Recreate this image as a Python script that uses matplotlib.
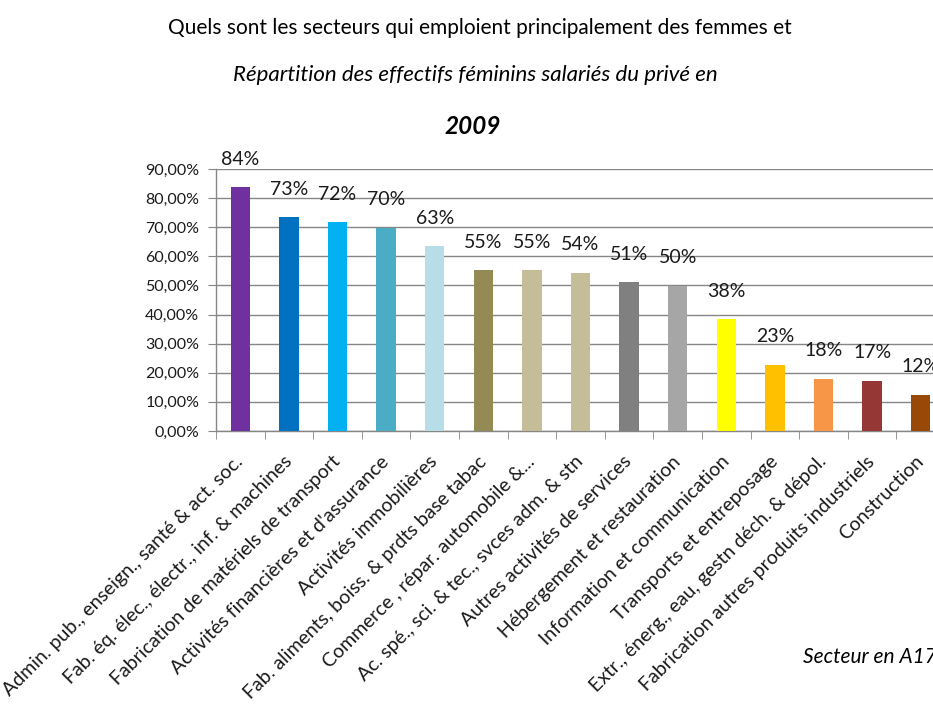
import numpy as np
import matplotlib
matplotlib.use("Agg")
import matplotlib.pyplot as plt
from matplotlib.ticker import FuncFormatter, FixedLocator

plt.rcParams['font.family'] = ['Lato', 'DejaVu Sans']

# secteurs (A17) et part des femmes dans les effectifs salariés du privé
secteurs = [
    "Admin. pub., enseign., santé & act. soc.",
    "Fab. éq. élec., électr., inf. & machines",
    "Fabrication de matériels de transport",
    "Activités financières et d'assurance",
    "Activités immobilières",
    "Fab. aliments, boiss. & prdts base tabac",
    "Commerce , répar. automobile &...",
    "Ac. spé., sci. & tec., svces adm. & stn",
    "Autres activités de services",
    "Hébergement et restauration",
    "Information et communication",
    "Transports et entreposage",
    "Extr., énerg., eau, gestn déch. & dépol.",
    "Fabrication autres produits industriels",
    "Construction",
]
part_femmes = [0.837, 0.734, 0.718, 0.698, 0.634, 0.553, 0.553, 0.543,
               0.511, 0.499, 0.384, 0.227, 0.179, 0.172, 0.124]
couleurs = ["#7030A0", "#0070C0", "#00B0F0", "#4BACC6", "#B7DEE8",
            "#948A54", "#C4BD97", "#C4BD97", "#808080", "#A6A6A6",
            "#FFFF00", "#FFC000", "#F79646", "#953735", "#984807"]
yticks = [0.0, 0.1, 0.2, 0.3, 0.4, 0.5, 0.6, 0.7, 0.8, 0.9]

W, H = 933, 705
fig = plt.figure(figsize=(W / 100, H / 100), dpi=100)
fig.patch.set_facecolor("white")

# plot area runs past the right edge, as in the original screenshot
x0, x1, ybot, ytop = 216, 945, 431, 169
ax = fig.add_axes([x0 / W, 1 - ybot / H, (x1 - x0) / W, (ybot - ytop) / H])

x = np.arange(len(secteurs))
ax.bar(x, part_femmes, width=0.4, color=couleurs, zorder=3)

for xi, v in zip(x, part_femmes):
    ax.annotate("{:.0f}%".format(v * 100), (xi, v), xytext=(0, 14),
                textcoords="offset points", ha="center", va="bottom",
                fontsize=14, color="#1a1a1a", annotation_clip=False)

gris = "#868686"
ax.set_xlim(-0.5, len(secteurs) - 0.5)
ax.set_ylim(0, 0.9)
ax.set_yticks(yticks)
ax.yaxis.set_major_formatter(FuncFormatter(lambda v, p: "{:.2f}%".format(v * 100).replace(".", ",")))
ax.grid(axis="y", color=gris, lw=1, zorder=0)
ax.tick_params(axis="y", length=6, color=gris, labelsize=11.5, pad=6, labelcolor="#1a1a1a")

ax.set_xticks(x)
ax.set_xticklabels(secteurs, rotation=45, ha="right", va="center",
                   rotation_mode="anchor", fontsize=14, color="#1a1a1a")
ax.xaxis.set_minor_locator(FixedLocator(np.arange(-0.5, len(secteurs), 1.0)))
ax.tick_params(axis="x", which="major", length=0, pad=20)
ax.tick_params(axis="x", which="minor", length=6, color=gris)

for s in ["top", "right"]:
    ax.spines[s].set_visible(False)
for s in ["left", "bottom"]:
    ax.spines[s].set_color(gris)
    ax.spines[s].set_linewidth(1)

fig.text(480 / W, 1 - 28 / H, "Quels sont les secteurs qui emploient principalement des femmes et",
         ha="center", va="center", fontsize=15, color="black")
fig.text(475 / W, 1 - 75 / H, "Répartition des effectifs féminins salariés du privé en",
         ha="center", va="center", fontsize=16, style="italic", color="black")
fig.text(473 / W, 1 - 127 / H, "2009", ha="center", va="center", fontsize=17.5,
         style="italic", weight="bold", color="black")
fig.text(803 / W, 1 - 657 / H, "Secteur en A17", ha="left", va="center",
         fontsize=15, style="italic", color="black")

fig.savefig("out.png", dpi=100, facecolor="white")
